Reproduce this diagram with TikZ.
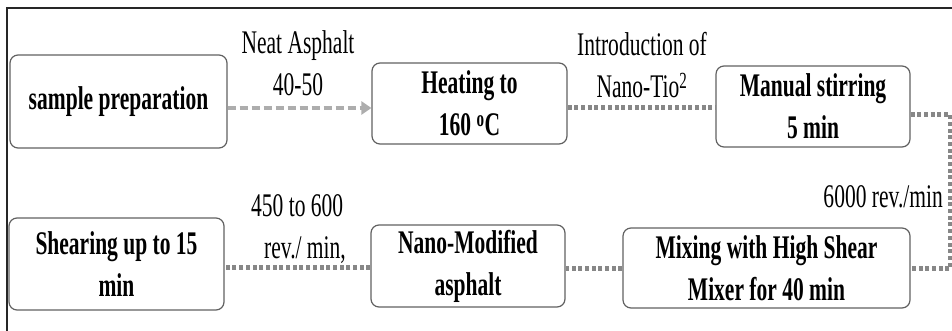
\documentclass[tikz,border=0pt]{standalone}
\usepackage{fontspec}
\setmainfont{Liberation Serif}[FakeStretch=0.652]
\usetikzlibrary{arrows.meta}
\tikzset{
  proc/.style={draw=black!62, line width=1.2pt, rounded corners=8pt, fill=white,
    inner sep=0pt, font=\fontsize{33}{42}\selectfont\bfseries, align=center},
  lbl/.style={font=\fontsize{33}{42}\selectfont, align=center, inner sep=0pt},
  dashlink/.style={draw=black!32, line width=3.5pt, dash pattern=on 8pt off 4pt,
    -{Triangle[length=10pt,width=13pt]}},
  dotlink/.style={draw=black!47, line width=5pt, dash pattern=on 4pt off 2.7pt},
  frameline/.style={draw=black!85, line width=2pt},
}
\begin{document}
\begin{tikzpicture}[x=1pt,y=-1pt]
\useasboundingbox (0,0) rectangle (952,331);
\draw[frameline] (7,331) -- (7,8) -- (952,8);
\node[proc, minimum width=217pt, minimum height=93pt] (b1) at (118.5,101.5) {sample preparation};
\node[proc, minimum width=195pt, minimum height=81pt] (b2) at (469.5,103.5) {Heating to\\160 \textsuperscript{o}C};
\node[proc, minimum width=194pt, minimum height=81pt] (b3) at (813,106.5) {Manual stirring\\5 min};
\node[proc, minimum width=287pt, minimum height=80pt] (b4) at (766.5,268) {Mixing with High Shear\\Mixer for 40 min};
\node[proc, minimum width=194pt, minimum height=82pt] (b5) at (468,266) {Nano-Modified\\asphalt};
\node[proc, minimum width=215pt, minimum height=92pt] (b6) at (116.5,264) {Shearing up to 15\\min};
\draw[dashlink] ([yshift=-6.5pt]b1.east) -- ([yshift=-4.5pt]b2.west);
\draw[dotlink] ([yshift=-4.5pt]b2.east) -- ([yshift=-1.5pt]b3.west);
\draw[dotlink] ([yshift=-8.5pt]b3.east) -- ++(40,0) |- (b4.east);
\draw[dotlink] (b4.west) -- (b4.west -| b5.east);
\draw[dotlink] ([yshift=-1pt]b5.west) -- ([yshift=-1pt]b5.west -| b6.east);
\node[lbl] (l1) at (298,63) {Neat Asphalt\\40-50};
\node[lbl] (l2) at (642,65) {Introduction of\\Nano-Tio\textsuperscript{2}};
\node[lbl, align=left] (l3) at (298.5,229) {450 to 600\\\hspace*{13pt}rev./ min,};
\node[lbl, anchor=base east] (l4) at (943,207) {6000 rev./min};
\end{tikzpicture}
\end{document}
